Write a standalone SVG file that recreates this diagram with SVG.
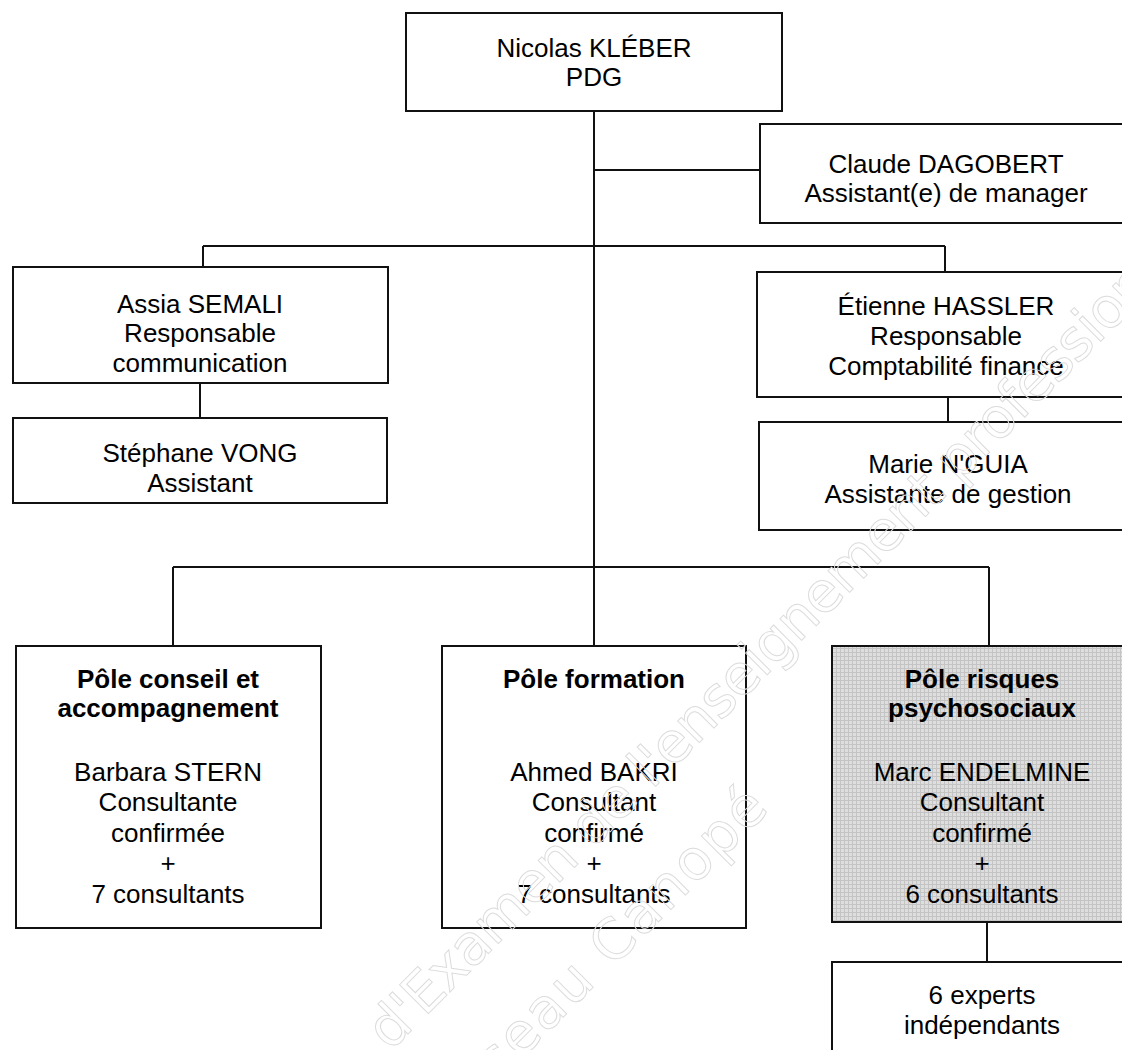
<svg xmlns="http://www.w3.org/2000/svg" width="1122" height="1050" viewBox="0 0 1122 1050">
<defs>
<pattern id="grid" width="4" height="4" patternUnits="userSpaceOnUse">
<rect width="4" height="4" fill="#dedede"/>
<path d="M0 0.5H4M0.5 0V4" stroke="#c4c4c4" stroke-width="1"/>
</pattern>
</defs>
<style>
.box{fill:#fff;stroke:#111;stroke-width:2}
.shade{fill:url(#grid);stroke:#111;stroke-width:2}
.t{font-family:"Liberation Sans",Arial,sans-serif;font-size:26px;fill:#000;text-anchor:middle}
.b{font-weight:bold}
.conn line{stroke:#111;stroke-width:2}
.wm{font-family:"DejaVu Sans","Open Sans",sans-serif;font-size:56px;fill:none;stroke:#dcdcdc;stroke-width:1}
</style>
<rect width="1122" height="1050" fill="#fff"/>
<g id="connectors" class="conn">
<line x1="594" y1="111" x2="594" y2="646"/>
<line x1="594" y1="170" x2="760" y2="170"/>
<line x1="203" y1="246" x2="945" y2="246"/>
<line x1="203" y1="246" x2="203" y2="267"/>
<line x1="945" y1="246" x2="945" y2="272"/>
<line x1="200" y1="383" x2="200" y2="418"/>
<line x1="948" y1="397" x2="948" y2="422"/>
<line x1="173" y1="567" x2="989" y2="567"/>
<line x1="173" y1="567" x2="173" y2="646"/>
<line x1="989" y1="567" x2="989" y2="646"/>
<line x1="987" y1="922" x2="987" y2="962"/>
</g>
<g id="pdg">
<rect class="box" x="406" y="13" width="376" height="98"/>
<text class="t" x="594" y="57">Nicolas KLÉBER</text>
<text class="t" x="594" y="86">PDG</text>
</g>
<g id="dagobert">
<rect class="box" x="760" y="124" width="380" height="99"/>
<text class="t" x="946" y="173">Claude DAGOBERT</text>
<text class="t" x="946" y="202">Assistant(e) de manager</text>
</g>
<g id="semali">
<rect class="box" x="13" y="267" width="375" height="116"/>
<text class="t" x="200" y="313">Assia SEMALI</text>
<text class="t" x="200" y="342">Responsable</text>
<text class="t" x="200" y="372">communication</text>
</g>
<g id="vong">
<rect class="box" x="13" y="418" width="374" height="85"/>
<text class="t" x="200" y="462">Stéphane VONG</text>
<text class="t" x="200" y="492">Assistant</text>
</g>
<g id="hassler">
<rect class="box" x="757" y="272" width="380" height="125"/>
<text class="t" x="946" y="315">Étienne HASSLER</text>
<text class="t" x="946" y="345">Responsable</text>
<text class="t" x="946" y="375">Comptabilité finance</text>
</g>
<g id="nguia">
<rect class="box" x="759" y="422" width="380" height="108"/>
<text class="t" x="948" y="473">Marie N'GUIA</text>
<text class="t" x="948" y="503">Assistante de gestion</text>
</g>
<g id="pole-conseil">
<rect class="box" x="16" y="646" width="305" height="282"/>
<text class="t b" x="168" y="688">Pôle conseil et</text>
<text class="t b" x="168" y="717">accompagnement</text>
<text class="t" x="168" y="781">Barbara STERN</text>
<text class="t" x="168" y="811">Consultante</text>
<text class="t" x="168" y="842">confirmée</text>
<text class="t" x="168" y="872">+</text>
<text class="t" x="168" y="903">7 consultants</text>
</g>
<g id="pole-formation">
<rect class="box" x="442" y="646" width="304" height="282"/>
<text class="t b" x="594" y="688">Pôle formation</text>
<text class="t" x="594" y="781">Ahmed BAKRI</text>
<text class="t" x="594" y="811">Consultant</text>
<text class="t" x="594" y="842">confirmé</text>
<text class="t" x="594" y="872">+</text>
<text class="t" x="594" y="903">7 consultants</text>
</g>
<g id="pole-risques">
<rect class="shade" x="832" y="646" width="300" height="276"/>
<text class="t b" x="982" y="688">Pôle risques</text>
<text class="t b" x="982" y="717">psychosociaux</text>
<text class="t" x="982" y="781">Marc ENDELMINE</text>
<text class="t" x="982" y="811">Consultant</text>
<text class="t" x="982" y="842">confirmé</text>
<text class="t" x="982" y="872">+</text>
<text class="t" x="982" y="903">6 consultants</text>
</g>
<g id="experts">
<rect class="box" x="832" y="962" width="300" height="120"/>
<text class="t" x="982" y="1004">6 experts</text>
<text class="t" x="982" y="1034">indépendants</text>
</g>
<g id="watermark">
<text class="wm" transform="translate(390,1052) rotate(-45)" x="0" y="0" textLength="1165" lengthAdjust="spacing">d'Examen de l'enseignement professionnel</text>
<text class="wm" transform="translate(390,1052) rotate(-45)" x="-20" y="98" textLength="460" lengthAdjust="spacing">Réseau Canopé</text>
</g>
</svg>
